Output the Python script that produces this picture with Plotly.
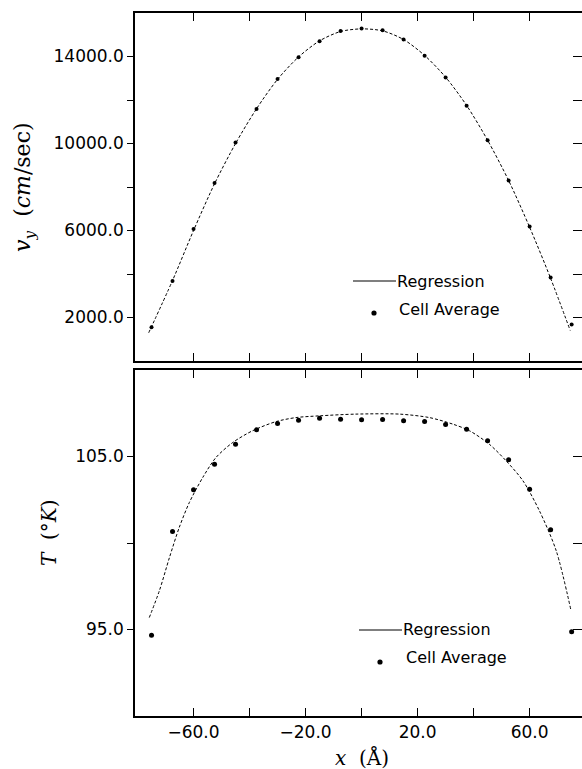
import plotly.graph_objects as go

# ---------------- data ----------------
x_cells = [-75, -67.5, -60, -52.5, -45, -37.5, -30, -22.5, -15, -7.5, 0,
           7.5, 15, 22.5, 30, 37.5, 45, 52.5, 60, 67.5, 75]

vy_cell = [1550, 3680, 6070, 8180, 10050, 11590, 12970, 13960, 14700, 15170, 15290,
           15210, 14780, 14040, 13040, 11730, 10150, 8300, 6180, 3840, 1680]

vy_fit_x = [-76, -67.5, -60, -52.5, -45, -37.5, -30, -22.5, -15, -7.5, 0,
            7.5, 15, 22.5, 30, 37.5, 45, 52.5, 60, 67.5, 74.5]
vy_fit = [1300, 3700, 6000, 8150, 10000, 11600, 12950, 13980, 14720, 15150, 15270,
          15180, 14780, 14050, 13050, 11750, 10150, 8300, 6150, 3800, 1400]

T_cell = [94.67, 100.66, 103.08, 104.55, 105.71, 106.54, 106.91, 107.10, 107.21, 107.16, 107.12,
          107.14, 107.06, 107.02, 106.85, 106.58, 105.91, 104.81, 103.11, 100.76, 94.87]

T_fit_x = [-75.8, -72.2, -68.6, -65.1, -61.5, -56.7, -52.0, -46.0, -38.9, -30.5, -23.4, -15.1,
           -2.0, 13.5, 24.2, 32.6, 38.5, 45.6, 51.6, 57.6, 63.5, 69.5, 74.8]
T_fit = [95.69, 97.24, 99.16, 100.90, 102.34, 103.79, 104.94, 105.81, 106.49, 107.02, 107.25, 107.35,
         107.45, 107.45, 107.25, 106.87, 106.49, 105.71, 104.75, 103.60, 101.86, 99.55, 96.08]

series_names = ["Regression", "Cell Average"]

x_tickvals = [-60, -20, 20, 60]
x_ticktext = ["\u221260.0", "\u221220.0", "20.0", "60.0"]
x_minorvals = [-40, 0, 40]
vy_tickvals = [2000, 6000, 10000, 14000]
vy_ticktext = ["2000.0", "6000.0", "10000.0", "14000.0"]
vy_minorvals = [4000, 8000, 12000]
T_tickvals = [95, 105]
T_ticktext = ["95.0", "105.0"]
T_minorvals = [100]

# ---------------- layout geometry (pixels) ----------------
W, H = 582, 769
L, R, TOP, BOT = 135, 582, 13, 716
X_RANGE = [-80.9, 78.7]


def px(xp):
    return (xp - L) / (R - L)


def py(yp):
    return (BOT - yp) / (BOT - TOP)


top_dom = [py(361), 1.0]
bot_dom = [0.0, py(370)]

tick_font = dict(family="DejaVu Sans", size=17, color="black")
BLACK = "black"

fig = go.Figure()

# top panel
fig.add_trace(go.Scatter(x=vy_fit_x, y=vy_fit, mode="lines", name=series_names[0],
                         line=dict(color=BLACK, width=1, dash="3px,2px", shape="spline", smoothing=0.8),
                         xaxis="x", yaxis="y", showlegend=False))
fig.add_trace(go.Scatter(x=x_cells, y=vy_cell, mode="markers", name=series_names[1],
                         marker=dict(color=BLACK, size=4), xaxis="x", yaxis="y", showlegend=False))
# bottom panel
fig.add_trace(go.Scatter(x=T_fit_x, y=T_fit, mode="lines", name=series_names[0],
                         line=dict(color=BLACK, width=1, dash="3px,2px", shape="spline", smoothing=0.8),
                         xaxis="x2", yaxis="y2", showlegend=False))
fig.add_trace(go.Scatter(x=x_cells, y=T_cell, mode="markers", name=series_names[1],
                         marker=dict(color=BLACK, size=5), xaxis="x2", yaxis="y2", showlegend=False))
# empty traces so the right-hand tick axes exist
fig.add_trace(go.Scatter(x=[], y=[], xaxis="x", yaxis="y3", showlegend=False))
fig.add_trace(go.Scatter(x=[], y=[], xaxis="x2", yaxis="y4", showlegend=False))

xcommon = dict(range=X_RANGE, tickvals=x_tickvals, ticks="inside", ticklen=8, tickwidth=1.2,
               tickcolor=BLACK, showline=True, linecolor=BLACK, linewidth=1.5, mirror="ticks",
               showgrid=False, zeroline=False, tickfont=tick_font,
               minor=dict(tickvals=x_minorvals, ticks="inside", ticklen=8, tickwidth=1.2,
                          tickcolor=BLACK, showgrid=False))


def ycommon(rng, vals, text, minor):
    return dict(range=rng, tickvals=vals, ticktext=text, ticks="outside", ticklen=6, tickwidth=1.2,
                tickcolor=BLACK, showline=True, linecolor=BLACK, linewidth=1.5, showgrid=False,
                zeroline=False, tickfont=tick_font,
                minor=dict(tickvals=minor, ticks="outside", ticklen=6, tickwidth=1.2,
                           tickcolor=BLACK, showgrid=False))


def yright(over, anchor, rng, vals):
    return dict(overlaying=over, side="right", anchor=anchor, range=rng, tickvals=vals,
                ticks="inside", ticklen=9, tickwidth=1.2, tickcolor=BLACK, showticklabels=False,
                showline=False, showgrid=False, zeroline=False)


fig.update_layout(
    width=W, height=H,
    margin=dict(l=L, r=W - R, t=TOP, b=H - BOT),
    paper_bgcolor="white", plot_bgcolor="white",
    xaxis=dict(domain=[0, 1], anchor="y", showticklabels=False, **xcommon),
    xaxis2=dict(domain=[0, 1], anchor="y2", ticktext=x_ticktext, showticklabels=True, **xcommon),
    yaxis=dict(domain=top_dom, anchor="x", **ycommon([0, 16000], vy_tickvals, vy_ticktext, vy_minorvals)),
    yaxis3=yright("y", "x", [0, 16000], vy_tickvals + vy_minorvals),
    yaxis2=dict(domain=bot_dom, anchor="x2", **ycommon([90, 110], T_tickvals, T_ticktext, T_minorvals)),
    yaxis4=yright("y2", "x2", [90, 110], T_tickvals + T_minorvals),
    showlegend=False,
)

# axis titles
title_font = dict(family="DejaVu Serif", size=22, color="black")
fig.add_annotation(text="<i>v</i><sub><i>y</i></sub>  (<i>cm</i>/sec)", x=px(24), y=py(187),
                   xref="paper", yref="paper", textangle=-90, showarrow=False, font=title_font,
                   xanchor="center", yanchor="middle")
fig.add_annotation(text="<i>T</i>  (\u00b0<i>K</i>)", x=px(49), y=py(533),
                   xref="paper", yref="paper", textangle=-90, showarrow=False,
                   font=dict(family="DejaVu Serif", size=20, color="black"),
                   xanchor="center", yanchor="middle")
fig.add_annotation(text="<i>x</i>  (\u00c5)", x=px(362), y=py(757),
                   xref="paper", yref="paper", showarrow=False,
                   font=dict(family="DejaVu Serif", size=20, color="black"),
                   xanchor="center", yanchor="middle")

# legends drawn in each panel
leg_font = dict(family="DejaVu Sans", size=16, color="black")


def add_legend(line_x0, line_x1, line_y, txt1_x, txt1_y, mk_x, mk_y, txt2_x, txt2_y):
    fig.add_shape(type="line", xref="paper", yref="paper", x0=px(line_x0), x1=px(line_x1),
                  y0=py(line_y), y1=py(line_y), line=dict(color=BLACK, width=1.2))
    fig.add_annotation(text=series_names[0], x=px(txt1_x), y=py(txt1_y), xref="paper", yref="paper",
                       showarrow=False, xanchor="left", yanchor="middle", font=leg_font)
    fig.add_shape(type="circle", xref="paper", yref="paper", xsizemode="pixel", ysizemode="pixel",
                  xanchor=px(mk_x), yanchor=py(mk_y), x0=-2.6, x1=2.6, y0=-2.6, y1=2.6,
                  fillcolor=BLACK, line=dict(color=BLACK, width=0))
    fig.add_annotation(text=series_names[1], x=px(txt2_x), y=py(txt2_y), xref="paper", yref="paper",
                       showarrow=False, xanchor="left", yanchor="middle", font=leg_font)


add_legend(353, 396, 281, 395, 281, 374, 313, 397, 309)
add_legend(359, 402, 630, 401, 629, 380, 662, 404, 657)

# remove the browser's default 8px page margin so the figure sits at the window's corner
fig.write_html("out.html", config={"displayModeBar": False},
               post_script="document.body.style.margin='0';")
